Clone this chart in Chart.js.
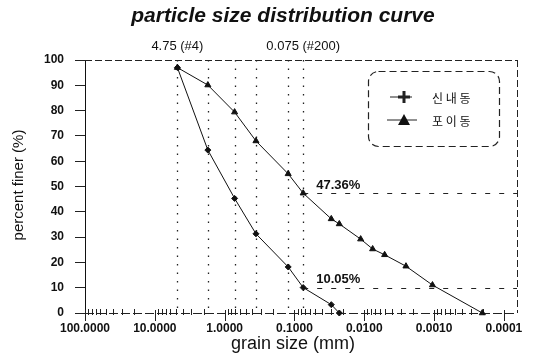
<!DOCTYPE html>
<html>
<head>
<meta charset="utf-8">
<script src="https://cdn.jsdelivr.net/npm/chart.js@4/dist/chart.umd.min.js"></script>
<style>
  html, body { margin: 0; padding: 0; background: #fff; }
</style>
</head>
<body>
<canvas id="psdChart" width="536" height="363"></canvas>
<script>
  // grain size (mm) and percent finer for each sample
  const seriesNames = ['신 내 동', '포 이 동'];
  const sinnaeSize = [4.75, 1.74, 0.72, 0.356, 0.123, 0.075, 0.0297, 0.0228];
  const sinnaeFiner = [97.0, 64.4, 45.3, 31.3, 18.2, 10.05, 3.3, 0];
  const poiSize = [4.75, 1.74, 0.72, 0.356, 0.123, 0.075, 0.0297, 0.0228,
    0.01127, 0.00759, 0.00511, 0.00253, 0.001056, 0.000204];
  const poiFiner = [97.0, 90.1, 79.4, 68.0, 55.0, 47.36, 37.2, 35.2,
    29.2, 25.3, 23.0, 18.5, 11.05, 0];

  const xTickValues = [100, 10, 1, 0.1, 0.01, 0.001, 0.0001];
  const xTickLabels = ['100.0000', '10.0000', '1.0000', '0.1000', '0.0100', '0.0010', '0.0001'];
  const yTickValues = [0, 10, 20, 30, 40, 50, 60, 70, 80, 90, 100];

  // sieve #4 and #200 reference lines, plus the other sieve columns
  const sieveSizes = [4.75, 0.075];
  const sieveLabels = ['4.75 (#4)', '0.075 (#200)'];
  const sieveColumns = [1.74, 0.72, 0.356, 0.123];
  const finerMarks = [47.36, 10.05];
  const finerLabels = ['47.36%', '10.05%'];

  const FONT = "'Liberation Sans', Arial, sans-serif";
  Chart.defaults.font.family = FONT;
  Chart.defaults.color = '#111';

  function toPoints(xs, ys) {
    return xs.map((x, i) => ({ x: x, y: ys[i] }));
  }

  function isDecade(v) {
    const l = Math.log10(v);
    return Math.abs(l - Math.round(l)) < 1e-6;
  }

  const overlay = {
    id: 'overlay',
    beforeDatasetsDraw(chart) {
      const { ctx, chartArea: a, scales: { x, y } } = chart;
      ctx.save();
      ctx.strokeStyle = '#222';

      // dotted sieve verticals
      ctx.lineWidth = 1.3;
      ctx.setLineDash([1.5, 7]);
      sieveSizes.concat(sieveColumns).forEach(v => {
        const px = Math.round(x.getPixelForValue(v)) + 0.5;
        ctx.beginPath();
        ctx.moveTo(px, a.top);
        ctx.lineTo(px, a.bottom);
        ctx.stroke();
      });

      // dashed percent-finer lines from the #200 sieve
      ctx.lineWidth = 1.2;
      ctx.setLineDash([5, 9]);
      const x200 = x.getPixelForValue(sieveSizes[1]);
      finerMarks.forEach(v => {
        const py = Math.round(y.getPixelForValue(v)) + 0.5;
        ctx.beginPath();
        ctx.moveTo(x200, py);
        ctx.lineTo(a.right, py);
        ctx.stroke();
      });

      // frame: top and right dashed, bottom axis dashed
      ctx.lineWidth = 1;
      ctx.setLineDash([7, 3]);
      ctx.beginPath();
      ctx.moveTo(a.left, a.top + 0.5);
      ctx.lineTo(a.right, a.top + 0.5);
      ctx.moveTo(a.right + 0.5, a.top);
      ctx.lineTo(a.right + 0.5, a.bottom);
      ctx.stroke();
      ctx.setLineDash([9, 3]);
      ctx.beginPath();
      ctx.moveTo(a.left, a.bottom + 0.5);
      ctx.lineTo(a.right, a.bottom + 0.5);
      ctx.stroke();

      // log ticks on the grain size axis
      ctx.setLineDash([]);
      x.ticks.forEach(t => {
        const px = Math.round(x.getPixelForValue(t.value)) + 0.5;
        const major = isDecade(t.value);
        ctx.beginPath();
        ctx.moveTo(px, a.bottom - (major ? 3 : 4));
        ctx.lineTo(px, a.bottom + (major ? 8 : 2));
        ctx.stroke();
      });
      ctx.restore();
    },
    afterDraw(chart) {
      const { ctx, chartArea: a, scales: { x, y } } = chart;
      ctx.save();
      ctx.fillStyle = '#111';
      ctx.textBaseline = 'middle';

      ctx.textAlign = 'center';
      ctx.font = 'italic bold 21px ' + FONT;
      ctx.fillText('particle size distribution curve', 283, 16);

      ctx.font = '13px ' + FONT;
      sieveSizes.forEach((v, i) => {
        ctx.fillText(sieveLabels[i], x.getPixelForValue(v), 46);
      });

      ctx.textAlign = 'left';
      ctx.font = 'bold 13px ' + FONT;
      const x200 = x.getPixelForValue(sieveSizes[1]);
      finerMarks.forEach((v, i) => {
        ctx.fillText(finerLabels[i], x200 + 13, y.getPixelForValue(v) - 8);
      });

      // axis titles
      ctx.textAlign = 'center';
      ctx.font = '18px ' + FONT;
      ctx.fillText('grain size (mm)', 293, 344);
      ctx.save();
      ctx.translate(19, 185);
      ctx.rotate(-Math.PI / 2);
      ctx.font = '15px ' + FONT;
      ctx.fillText('percent finer (%)', 0, 0);
      ctx.restore();

      // legend box
      ctx.strokeStyle = '#222';
      ctx.lineWidth = 1.2;
      ctx.setLineDash([7, 4]);
      ctx.beginPath();
      ctx.roundRect(368.5, 71.5, 131, 75, 10);
      ctx.stroke();
      ctx.setLineDash([]);

      const rows = [97, 120];
      ctx.lineWidth = 1;
      ctx.beginPath();
      ctx.moveTo(390, rows[0]);
      ctx.lineTo(412, rows[0]);
      ctx.moveTo(387, rows[1]);
      ctx.lineTo(417, rows[1]);
      ctx.stroke();

      ctx.lineWidth = 3;
      ctx.beginPath();
      ctx.moveTo(398, rows[0]);
      ctx.lineTo(410, rows[0]);
      ctx.moveTo(404, rows[0] - 6);
      ctx.lineTo(404, rows[0] + 6);
      ctx.stroke();

      ctx.beginPath();
      ctx.moveTo(404, rows[1] - 6);
      ctx.lineTo(410, rows[1] + 5);
      ctx.lineTo(398, rows[1] + 5);
      ctx.closePath();
      ctx.fill();

      ctx.textAlign = 'left';
      ctx.font = "12px 'Noto Sans CJK KR', sans-serif";
      seriesNames.forEach((name, i) => {
        ctx.fillText(name, 432, rows[i] + 1);
      });
      ctx.restore();
    }
  };

  new Chart(document.getElementById('psdChart'), {
    type: 'line',
    data: {
      datasets: [{
        label: seriesNames[0],
        data: toPoints(sinnaeSize, sinnaeFiner),
        borderColor: '#111',
        backgroundColor: '#111',
        borderWidth: 1,
        pointStyle: 'rectRot',
        pointRadius: 3,
        clip: false
      }, {
        label: seriesNames[1],
        data: toPoints(poiSize, poiFiner),
        borderColor: '#111',
        backgroundColor: '#111',
        borderWidth: 1,
        pointStyle: 'triangle',
        pointRadius: 3.5,
        clip: false
      }]
    },
    options: {
      responsive: false,
      animation: false,
      events: [],
      layout: {
        padding: { top: 60, right: 19, left: 0, bottom: 0 }
      },
      scales: {
        x: {
          type: 'logarithmic',
          reverse: true,
          min: 0.000065,
          max: 100,
          afterFit: (scale) => { scale.height = 50; },
          afterBuildTicks: (scale) => {
            const ticks = [];
            xTickValues.forEach(v => {
              for (let k = 1; k <= 9; k++) {
                const t = +(v * k).toPrecision(3);
                if (t <= 100) ticks.push({ value: t });
              }
            });
            scale.ticks = ticks;
          },
          grid: { display: false },
          border: { display: false },
          ticks: {
            autoSkip: false,
            maxRotation: 0,
            minRotation: 0,
            padding: 0,
            font: { size: 12, weight: 'bold' },
            callback: (value) => {
              const i = xTickValues.findIndex(v => Math.abs(Math.log10(v) - Math.log10(value)) < 1e-6);
              return i >= 0 ? xTickLabels[i] : '';
            }
          }
        },
        y: {
          min: 0,
          max: 100,
          afterFit: (scale) => { scale.width = 85; },
          afterBuildTicks: (scale) => {
            scale.ticks = yTickValues.map(v => ({ value: v }));
          },
          grid: {
            drawOnChartArea: false,
            tickLength: 10,
            color: '#222'
          },
          border: { display: true, color: '#111', width: 1 },
          ticks: {
            padding: 11,
            font: { size: 12, weight: 'bold' }
          }
        }
      },
      plugins: {
        legend: { display: false },
        title: { display: false },
        tooltip: { enabled: false }
      }
    },
    plugins: [overlay]
  });
</script>
</body>
</html>
